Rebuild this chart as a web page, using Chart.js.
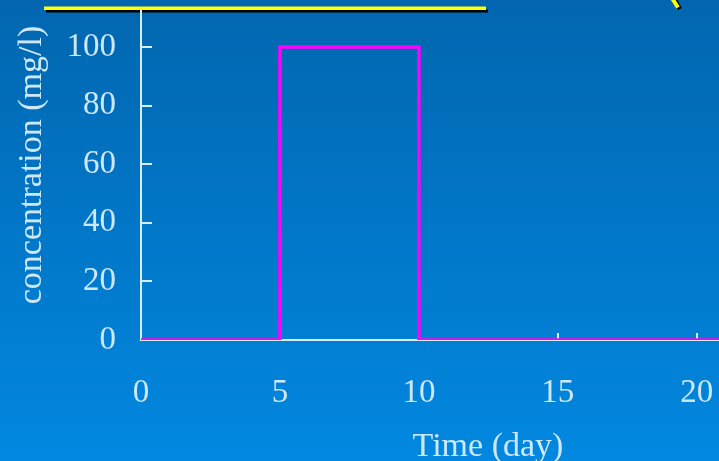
<!DOCTYPE html>
<html>
<head>
<meta charset="utf-8">
<script src="https://cdn.jsdelivr.net/npm/chart.js@4.4.1/dist/chart.umd.min.js"></script>
<style>
  html, body { margin: 0; padding: 0; background: #0177c8; }
  #wrap { width: 719px; height: 461px; position: relative; }
</style>
</head>
<body>
<div id="wrap"><canvas id="c" width="719" height="461"></canvas></div>
<script>
// Pulse input: concentration switches on at day 5 and off at day 10
const pulseDays = [0, 5, 10, 21];
const pulseConcentration = [0, 100, 0, 0];
const xTickValues = [0, 5, 10, 15, 20];
const yTickValues = [0, 20, 40, 60, 80, 100];
const xTitle = 'Time (day)';
const yTitle = 'concentration (mg/l)';

const textColor = '#cde8fa';
const axisColor = '#d6eeff';
const serif = '"Liberation Serif", "Times New Roman", serif';

// Slide-style backdrop: vertical blue gradient plus the yellow header rule
const backdrop = {
  id: 'backdrop',
  beforeDraw(chart) {
    const { ctx, width, height } = chart;
    ctx.save();
    const g = ctx.createLinearGradient(0, 0, 0, height);
    g.addColorStop(0, '#0166af');
    g.addColorStop(1, '#0188e0');
    ctx.fillStyle = g;
    ctx.fillRect(0, 0, width, height);

    // header underline with drop shadow
    ctx.fillStyle = '#000000';
    ctx.fillRect(46, 9.5, 442, 3);
    ctx.fillStyle = '#ffff00';
    ctx.fillRect(44, 6.5, 442, 3.5);

    // tail of the header bracket
    ctx.lineCap = 'butt';
    ctx.lineWidth = 4;
    ctx.strokeStyle = '#000000';
    ctx.beginPath();
    ctx.moveTo(674, -2); ctx.lineTo(680, 9);
    ctx.stroke();
    ctx.strokeStyle = '#ffff00';
    ctx.beginPath();
    ctx.moveTo(672, -2); ctx.lineTo(678, 7.5);
    ctx.stroke();
    ctx.restore();
  }
};

// Tick marks point into the plot area
const innerTicks = {
  id: 'innerTicks',
  beforeDatasetsDraw(chart) {
    const { ctx, scales: { x, y } } = chart;
    ctx.save();
    ctx.strokeStyle = axisColor;
    ctx.lineWidth = 2;
    ctx.beginPath();
    y.ticks.forEach(t => {
      const py = Math.round(y.getPixelForValue(t.value));
      ctx.moveTo(x.left, py);
      ctx.lineTo(x.left + 11, py);
    });
    x.ticks.forEach(t => {
      if (t.value === 0) return;
      const px = Math.round(x.getPixelForValue(t.value));
      ctx.moveTo(px, y.bottom);
      ctx.lineTo(px, y.bottom - 7);
    });
    ctx.stroke();
    ctx.restore();
  }
};

// Axis titles are nudged off-centre (x title sits right, y title sits high)
const titleOffsets = { x: [58, 6], y: [0, -10] };
const shiftTitles = {
  id: 'shiftTitles',
  afterLayout(chart) {
    Object.entries(titleOffsets).forEach(([id, [dx, dy]]) => {
      const scale = chart.scales[id];
      if (scale._shifted) return;
      const orig = scale.drawTitle;
      scale.drawTitle = function () {
        const ctx = this.ctx;
        ctx.save();
        ctx.translate(dx, dy);
        orig.call(this);
        ctx.restore();
      };
      scale._shifted = true;
    });
  }
};

// Plot edges sit flush with the canvas top/right; no extra room for edge labels
const noEdgePadding = s => {
  s.paddingTop = 0; s.paddingBottom = 0; s.paddingLeft = 0; s.paddingRight = 0;
};

new Chart(document.getElementById('c'), {
  type: 'line',
  data: {
    datasets: [{
      data: pulseDays.map((d, i) => ({ x: d, y: pulseConcentration[i] })),
      stepped: 'before',
      borderColor: '#ff00ff',
      borderWidth: 3.5,
      pointRadius: 0,
      fill: false
    }]
  },
  options: {
    responsive: false,
    animation: false,
    devicePixelRatio: 1,
    layout: { padding: { top: 10, right: 0, left: 0, bottom: 0 } },
    plugins: { legend: { display: false }, tooltip: { enabled: false } },
    scales: {
      x: {
        type: 'linear',
        min: 0,
        max: 20.8,
        afterBuildTicks: s => { s.ticks = xTickValues.map(v => ({ value: v })); },
        afterFit: s => { s.height = 121; noEdgePadding(s); },
        grid: { display: false, drawTicks: false },
        border: { display: true, color: axisColor, width: 2 },
        ticks: {
          color: textColor,
          padding: 34,
          maxRotation: 0,
          font: { family: serif, size: 33 }
        },
        title: {
          display: true,
          text: xTitle,
          color: textColor,
          padding: { top: 0, bottom: 0 },
          font: { family: serif, size: 34 }
        }
      },
      y: {
        type: 'linear',
        min: 0,
        max: 112.6,
        afterBuildTicks: s => { s.ticks = yTickValues.map(v => ({ value: v })); },
        afterFit: s => { s.width = 141; noEdgePadding(s); },
        grid: { display: false, drawTicks: false },
        border: { display: true, color: axisColor, width: 2 },
        ticks: {
          color: textColor,
          padding: 25,
          font: { family: serif, size: 33 }
        },
        title: {
          display: true,
          text: yTitle,
          color: textColor,
          padding: { top: 12, bottom: 0 },
          font: { family: serif, size: 34 }
        }
      }
    }
  },
  plugins: [backdrop, innerTicks, shiftTitles]
});
</script>
</body>
</html>
